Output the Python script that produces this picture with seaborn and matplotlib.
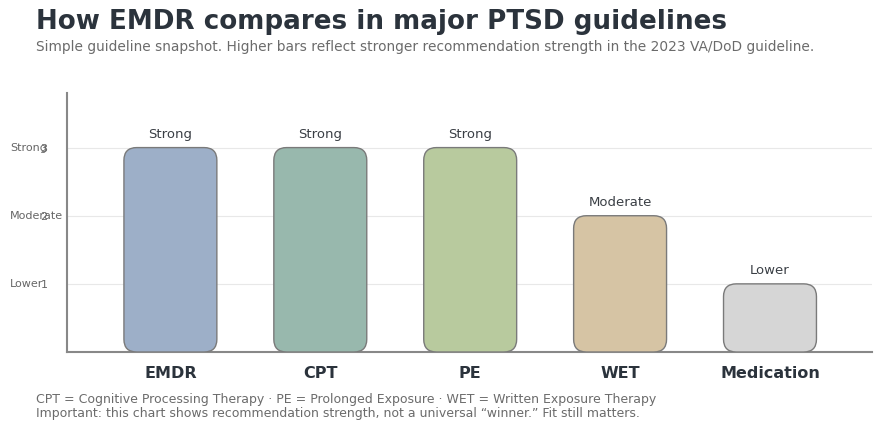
import pandas as pd
import matplotlib.pyplot as plt
import seaborn as sns
from matplotlib.patches import FancyBboxPatch

treatments = ['EMDR', 'CPT', 'PE', 'WET', 'Medication']
strength = [3, 3, 3, 2, 1]
strength_labels = ['Strong', 'Strong', 'Strong', 'Moderate', 'Lower']
level_names = ['Lower', 'Moderate', 'Strong']
level_ticks = [1, 2, 3]
colors = ['#9dafc8', '#98b8ad', '#b8ca9e', '#d6c4a4', '#d6d6d6']

df = pd.DataFrame({'treatment': treatments, 'strength': strength})

sns.set_style('white')
fig = plt.figure(figsize=(8.87, 4.37), dpi=100)
ax = fig.add_axes([0.0755, 0.1945, 0.9075, 0.5925])

sns.barplot(data=df, x='treatment', y='strength', hue='treatment',
            palette=colors, saturation=1, width=0.62, legend=False, ax=ax)

# swap the square bars for rounded ones
for bar in list(ax.patches):
    x, y = bar.get_x(), bar.get_y()
    w, h = bar.get_width(), bar.get_height()
    fc = bar.get_facecolor()
    bar.remove()
    ax.add_patch(FancyBboxPatch((x, y), w, h,
                                boxstyle='round,pad=0,rounding_size=0.085',
                                mutation_aspect=2.2, facecolor=fc,
                                edgecolor='#7a7a7a', linewidth=1, zorder=3))

for i, (v, lab) in enumerate(zip(strength, strength_labels)):
    ax.text(i, v + 0.1, lab, ha='center', va='bottom', fontsize=9.5,
            color='#3a3f45')

ax.set_xlim(-0.69, 4.68)
ax.set_ylim(0, 3.8)
ax.set_yticks(level_ticks)
ax.set_yticklabels([str(t) for t in level_ticks])
ax.tick_params(axis='y', length=0, pad=14, labelsize=8, labelcolor='#666666')
ax.tick_params(axis='x', length=0, pad=10, labelsize=11.5)
for t in ax.get_xticklabels():
    t.set_fontweight('bold')
    t.set_color('#2b333c')
for yv, name in zip(level_ticks, level_names):
    ax.text(-0.0708, yv, name, transform=ax.get_yaxis_transform(),
            ha='left', va='center', fontsize=8, color='#666666')

ax.yaxis.grid(True, color='#e8e8e8', linewidth=0.8, zorder=0)
ax.set_axisbelow(True)
sns.despine(ax=ax)
for s in ['left', 'bottom']:
    ax.spines[s].set_color('#888888')
    ax.spines[s].set_linewidth(1.5)
ax.set_xlabel('')
ax.set_ylabel('')

fig.text(0.041, 1 - 9 / 437, 'How EMDR compares in major PTSD guidelines',
         ha='left', va='top', fontsize=18.85, fontweight='bold', color='#2b333c')
fig.text(0.041, 1 - 40 / 437,
         'Simple guideline snapshot. Higher bars reflect stronger recommendation '
         'strength in the 2023 VA/DoD guideline.',
         ha='left', va='top', fontsize=9.9, color='#6b6b6b')
fig.text(0.041, 1 - 393 / 437,
         'CPT = Cognitive Processing Therapy \u00b7 PE = Prolonged Exposure \u00b7 '
         'WET = Written Exposure Therapy\n'
         'Important: this chart shows recommendation strength, not a universal '
         '\u201cwinner.\u201d Fit still matters.',
         ha='left', va='top', fontsize=9, color='#6b6b6b', linespacing=1.15)

fig.savefig('out.png', dpi=100)
